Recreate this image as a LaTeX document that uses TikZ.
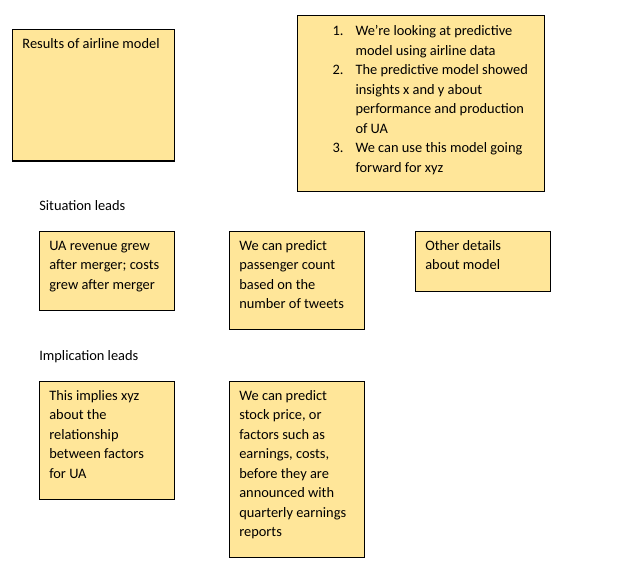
\documentclass[tikz,border=0pt]{standalone}
\usepackage{fontspec}
\setmainfont{Carlito}
\definecolor{note}{HTML}{FFE699}
\begin{document}
\begin{tikzpicture}[x=0.75pt,y=-0.75pt,
  box/.style={draw=black,line width=0.8pt,fill=note,inner sep=0pt,outer sep=0pt,anchor=north west,minimum width=101.25pt},
  txt/.style={inner sep=0pt,outer sep=0pt,anchor=north west,align=left,font=\fontsize{10.8pt}{14.63pt}\selectfont},
]
\useasboundingbox (0,0) rectangle (618,586);
% boxes
\node[box,minimum width=121.65pt,minimum height=98.78pt] (A) at (12.3,29.3) {};
\node[box,minimum width=185.25pt,minimum height=132pt] (B) at (297.3,15.3) {};
\node[box,minimum height=58.95pt] (C) at (39.3,231.7) {};
\node[box,minimum height=73pt] (D) at (229.3,231.7) {};
\node[box,minimum height=44.5pt] (E) at (415.3,231.7) {};
\node[box,minimum height=88pt] (F) at (39.3,381.7) {};
\node[box,minimum height=131.5pt] (G) at (229.3,381.7) {};
% texts
\node[txt] (tA) at (22.5,34.4) {\strut Results of airline model};
\node[txt] (nB) at (332.5,22) {\strut 1.\\ \\2.\\ \\ \\ \\3.};
\node[txt] (tB) at (355.5,22) {\strut We’re looking at predictive\\model using airline data\\The predictive model showed\\insights x and y about\\performance and production\\of UA\\We can use this model going\\forward for xyz};
\node[txt] (sit) at (39.3,197.2) {\strut Situation leads};
\node[txt] (tC) at (49.3,236.5) {\strut UA revenue grew\\after merger; costs\\grew after merger};
\node[txt] (tD) at (239.3,236.5) {\strut We can predict\\passenger count\\based on the\\number of tweets};
\node[txt] (tE) at (425.3,236.5) {\strut Other details\\about model};
\node[txt] (imp) at (39.3,346.5) {\strut Implication leads};
\node[txt] (tF) at (49.3,386.5) {\strut This implies xyz\\about the\\relationship\\between factors\\for UA};
\node[txt] (tG) at (239.3,386.5) {\strut We can predict\\stock price, or\\factors such as\\earnings, costs,\\before they are\\announced with\\quarterly earnings\\reports};
\end{tikzpicture}
\end{document}
